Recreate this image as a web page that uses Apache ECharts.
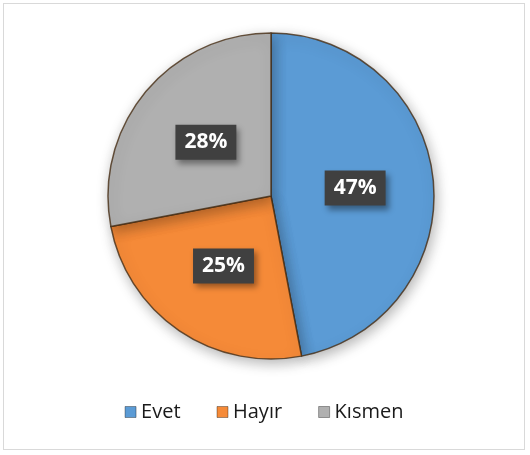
<!DOCTYPE html>
<html>
<head>
<meta charset="utf-8">
<script src="https://cdn.jsdelivr.net/npm/echarts@6/dist/echarts.min.js"></script>
<style>
  html, body { margin: 0; padding: 0; background: #fff; }
  #chart {
    position: absolute; left: 3px; top: 3px;
    width: 522px; height: 447px;
    border: 1px solid #d9d9d9; box-sizing: border-box;
  }
</style>
</head>
<body>
<div id="chart"></div>
<script>
// veriler
const categories = ["Evet", "Hayır", "Kısmen"];
const values = [47, 25, 28];
const colors = ["#5B9BD5", "#F58A38", "#B0B0B0"];

let chart = echarts.init(document.getElementById("chart"));
let option = {
  animation: false,
  color: colors,
  legend: {
    bottom: 22,
    left: "center",
    icon: "rect",
    itemWidth: 11,
    itemHeight: 11,
    itemGap: 36,
    itemStyle: { borderColor: "rgba(0,0,0,0.35)", borderWidth: 1 },
    textStyle: { fontSize: 20, color: "#1a1a1a", fontFamily: "Open Sans" },
    data: categories,
  },
  series: [
    {
      type: "pie",
      center: [267, 192],
      radius: 163,
      startAngle: 90,
      clockwise: true,
      label: {
        show: true,
        position: "inside",
        formatter: "{c}%",
        color: "#fff",
        fontSize: 21,
        fontWeight: "bold",
        fontFamily: "Open Sans",
        backgroundColor: "#404040",
        padding: [8, 9, 6, 9],
        shadowColor: "rgba(0,0,0,0.4)",
        shadowBlur: 6,
        shadowOffsetX: 3,
        shadowOffsetY: 4,
      },
      labelLine: { show: false },
      itemStyle: {
        borderColor: "rgba(70,45,20,0.8)",
        borderWidth: 1.5,
        shadowColor: "rgba(0,0,0,0.3)",
        shadowBlur: 14,
        shadowOffsetX: 2,
        shadowOffsetY: 4,
      },
      emphasis: { disabled: true },
      data: categories.map((name, i) => ({ name: name, value: values[i] })),
    },
  ],
};
chart.setOption(option);
</script>
</body>
</html>
